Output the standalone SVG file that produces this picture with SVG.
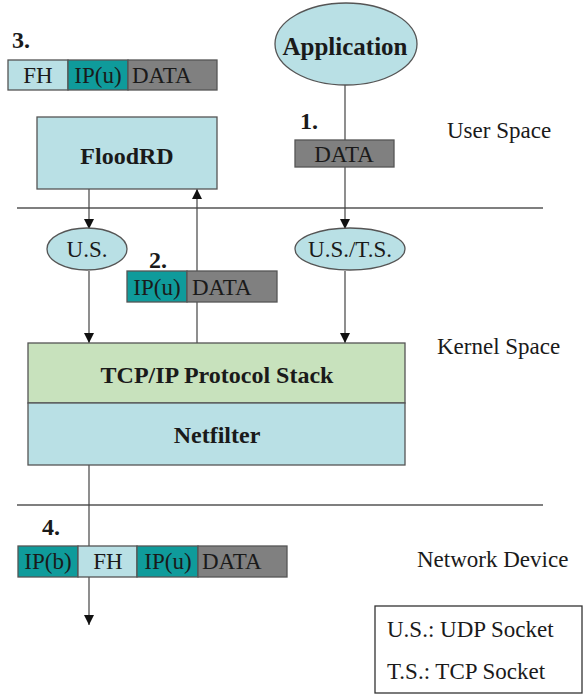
<svg xmlns="http://www.w3.org/2000/svg" width="587" height="697" viewBox="0 0 587 697" font-family="'Times New Roman','Liberation Serif','DejaVu Serif',serif">
<style>
text{font-family:"Times New Roman","Liberation Serif","DejaVu Serif",serif;fill:#1a1a1a}
.b{font-weight:bold}
.c{text-anchor:middle}
.lb{fill:#b9e0e5;stroke:#555;stroke-width:1.3}
.tl{fill:#0f9b9b;stroke:#555;stroke-width:1.3}
.gr{fill:#808080;stroke:#555;stroke-width:1.3}
.gn{fill:#c8e2bd;stroke:#555;stroke-width:1.3}
.ln{stroke:#444;stroke-width:1.2;fill:none}
.sep{stroke:#555;stroke-width:1.6}
.pk{font-size:23px}
</style>
<defs>
<marker id="ah" viewBox="0 0 10 10" refX="10" refY="5" markerWidth="10" markerHeight="10" markerUnits="userSpaceOnUse" orient="auto">
<path d="M0,0 L10,5 L0,10 z" fill="#111"/>
</marker>
</defs>

<g id="separators">
<line class="sep" x1="17" y1="208" x2="543" y2="208"/>
<line class="sep" x1="17" y1="505" x2="543" y2="505"/>
</g>

<g id="connectors">
<line class="ln" x1="345" y1="85" x2="345" y2="140"/>
<line class="ln" x1="345" y1="167" x2="345" y2="229" marker-end="url(#ah)"/>
<line class="ln" x1="89" y1="189" x2="89" y2="229" marker-end="url(#ah)"/>
<line class="ln" x1="89" y1="271" x2="89" y2="343" marker-end="url(#ah)"/>
<line class="ln" x1="345" y1="271" x2="345" y2="343" marker-end="url(#ah)"/>
<line class="ln" x1="197" y1="343" x2="197" y2="189" marker-end="url(#ah)"/>
<line class="ln" x1="89" y1="465" x2="89" y2="625" marker-end="url(#ah)"/>
</g>

<g id="application">
<ellipse class="lb" cx="346" cy="44" rx="71" ry="41"/>
<text class="b c" x="345" y="55" font-size="25">Application</text>
</g>

<g id="floodrd">
<rect class="lb" x="37" y="117" width="180" height="72"/>
<text class="b c" x="127" y="164" font-size="24">FloodRD</text>
</g>

<g id="us">
<ellipse class="lb" cx="87" cy="249" rx="40" ry="21"/>
<text class="c pk" x="87" y="257">U.S.</text>
</g>

<g id="usts">
<ellipse class="lb" cx="350" cy="249" rx="55" ry="21"/>
<text class="c pk" x="350" y="257">U.S./T.S.</text>
</g>

<g id="tcpip">
<rect class="gn" x="28" y="343" width="377" height="60"/>
<text class="b c" x="217" y="383" font-size="24">TCP/IP Protocol Stack</text>
</g>

<g id="netfilter">
<rect class="lb" x="28" y="403" width="377" height="62"/>
<text class="b c" x="217" y="443" font-size="24">Netfilter</text>
</g>

<g id="packet1">
<text class="b" x="300" y="129" font-size="24">1.</text>
<rect class="gr" x="295" y="140" width="99" height="27"/>
<text class="c pk" x="344" y="162">DATA</text>
</g>

<g id="packet2">
<text class="b" x="149" y="268" font-size="24">2.</text>
<rect class="tl" x="127" y="271" width="60" height="31"/>
<rect class="gr" x="187" y="271" width="90" height="31"/>
<text class="c pk" x="157" y="295">IP(u)</text>
<text class="pk" x="192" y="295">DATA</text>
</g>

<g id="packet3">
<text class="b" x="12" y="48" font-size="24">3.</text>
<rect class="lb" x="8" y="60" width="60" height="30"/>
<rect class="tl" x="68" y="60" width="60" height="30"/>
<rect class="gr" x="128" y="60" width="89" height="30"/>
<text class="c pk" x="38" y="83">FH</text>
<text class="c pk" x="98" y="83">IP(u)</text>
<text class="pk" x="132" y="83">DATA</text>
</g>

<g id="packet4">
<text class="b" x="42" y="535" font-size="24">4.</text>
<rect class="tl" x="18" y="546" width="60" height="31"/>
<rect class="lb" x="78" y="546" width="59" height="31"/>
<rect class="tl" x="137" y="546" width="61" height="31"/>
<rect class="gr" x="198" y="546" width="89" height="31"/>
<text class="c pk" x="48" y="569">IP(b)</text>
<text class="c pk" x="108" y="569">FH</text>
<text class="c pk" x="168" y="569">IP(u)</text>
<text class="pk" x="202" y="569">DATA</text>
</g>

<g id="regions">
<text x="447" y="138" font-size="23">User Space</text>
<text x="437" y="354" font-size="23">Kernel Space</text>
<text x="417" y="567" font-size="23">Network Device</text>
</g>

<g id="legend">
<rect x="375" y="606" width="207" height="87" fill="#fff" stroke="#333" stroke-width="1.3"/>
<text x="387" y="637" font-size="23">U.S.: UDP Socket</text>
<text x="387" y="679" font-size="23">T.S.: TCP Socket</text>
</g>
</svg>
